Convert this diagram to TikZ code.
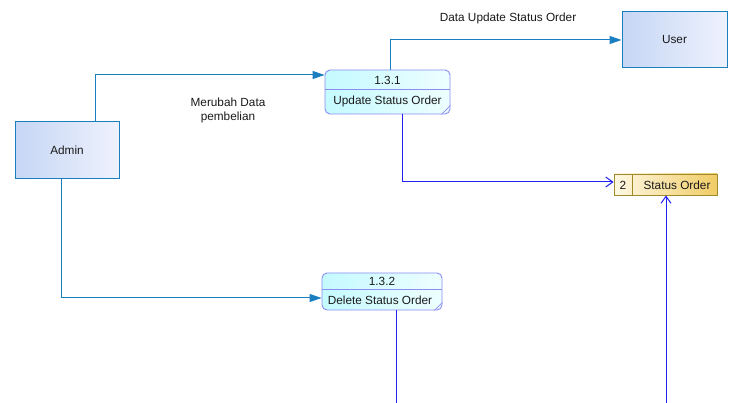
\documentclass[tikz,border=0pt]{standalone}
\usepackage{fontspec}
\setmainfont{Liberation Sans}
\usetikzlibrary{arrows.meta,calc}
\definecolor{extb}{HTML}{1A7FC1}
\definecolor{entA}{HTML}{C6D6F4}
\definecolor{entB}{HTML}{EEF2FD}
\definecolor{procB}{HTML}{8C8CF2}
\definecolor{procA}{HTML}{C4FAFF}
\definecolor{procC}{HTML}{EEFEFF}
\definecolor{storeB}{HTML}{A08A2A}
\definecolor{storeA}{HTML}{FFF8E4}
\definecolor{storeC}{HTML}{F0CC66}
\definecolor{flowblue}{HTML}{2020F0}
\definecolor{txt}{HTML}{1A1A1A}
\tikzset{
  entity/.style={draw=extb, line width=1pt, left color=entA, right color=entB, inner sep=0pt, text=txt},
  procbox/.style={draw=procB, line width=0.9pt, rounded corners=5pt, left color=procA, right color=procC, inner sep=0pt},
  storebox/.style={draw=storeB, line width=0.9pt, left color=storeA, right color=storeC, inner sep=0pt},
  lbl/.style={text=txt, inner sep=0pt, align=center},
  flowA/.style={draw=extb, line width=1pt, -{Triangle[length=12pt,width=8pt]}},
  flowB/.style={draw=flowblue, line width=1pt, -{Straight Barb[length=7pt,width=10pt]}},
  flowC/.style={draw=flowblue, line width=1pt}
}
\begin{document}
\begin{tikzpicture}[x=1pt,y=-1pt,font=\fontsize{11.8}{14}\selectfont]
\useasboundingbox (0,0) rectangle (731,403);
\fill[white] (0,0) rectangle (731,403);

% entities
\node[entity, minimum width=104pt, minimum height=57pt] (admin) at (67,150.5) {Admin};
\node[entity, minimum width=105pt, minimum height=56pt] (user) at (674.5,40) {User};

% process 1.3.1
\node[procbox, minimum width=125pt, minimum height=44pt] (p1) at (387.5,92) {};
\draw[draw=procB, line width=0.9pt] (p1.west |- 0,89) -- (p1.east |- 0,89);
\draw[draw=procB, line width=0.6pt] ($(p1.south east)+(-9,0)$) -- ($(p1.south east)+(0,-9)$);
\node[lbl] (p1n) at (387.5,80) {1.3.1};
\node[lbl] (p1t) at (387.5,101) {Update Status Order};

% process 1.3.2
\node[procbox, minimum width=120pt, minimum height=37pt] (p2) at (382,291.5) {};
\draw[draw=procB, line width=0.9pt] (p2.west |- 0,289) -- (p2.east |- 0,289);
\draw[draw=procB, line width=0.6pt] ($(p2.south east)+(-8,0)$) -- ($(p2.south east)+(0,-8)$);
\node[lbl] (p2n) at (382,281) {1.3.2};
\node[lbl] (p2t) at (380,300.5) {Delete Status Order};

% data store
\node[storebox, minimum width=103pt, minimum height=21pt] (store) at (665.5,184.5) {};
\draw[draw=storeB, line width=0.9pt] (632,174) -- (632,195);
\node[lbl] (sn) at (623,185) {2};
\node[lbl] (st) at (677,185) {Status Order};

% labels
\node[lbl] (l1) at (228,110) {Merubah Data\\pembelian};
\node[lbl] (l2) at (508,18) {Data Update Status Order};

% free ends
\coordinate (e1) at (396,403);
\coordinate (e2) at (666,403);

% connectors
\draw[flowA] (admin.north -| 95,0) |- (p1.west |- 0,75);
\draw[flowA] (p1.north -| 390,0) |- (user.west);
\draw[flowB] (p1.south -| 402,0) |- (store.west |- 0,182);
\draw[flowA] (admin.south -| 61,0) |- (p2.west |- 0,298);
\draw[flowC] (p2.south -| 396,0) -- (e1);
\draw[flowB] (e2) -- (store.south -| 666,0);
\end{tikzpicture}
\end{document}
